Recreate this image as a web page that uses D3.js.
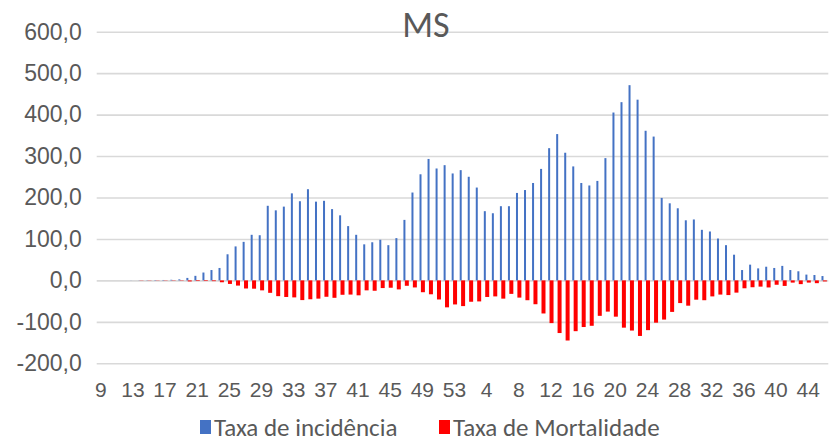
<!DOCTYPE html>
<html>
<head>
<meta charset="utf-8">
<script src="https://cdn.jsdelivr.net/npm/d3@7/dist/d3.min.js"></script>
<style>
  html, body { margin: 0; padding: 0; background: #ffffff; }
  svg { display: block; font-family: Carlito, Calibri, Lato, "Open Sans", sans-serif; }
  .grid line { stroke: #d9d9d9; stroke-width: 1.6; }
  .grid path { display: none; }
  .tick text { fill: #595959; }
</style>
</head>
<body>
<svg id="chart" width="834" height="441"></svg>
<script>
// Epidemiological weeks: 9–53 of 2020, then 1–46 of 2021
const weeks = [];
for (let w = 9; w <= 53; w++) weeks.push(String(w));
for (let w = 1; w <= 46; w++) weeks.push(String(w));

// Incidence rate per week
const incidencia = [
  0, 0, 0, 0, 0.2, 0.3, 0.5, 0.8, 1.0, 1.5,
  2.5, 6, 11, 19, 25, 30, 63, 82, 93, 110,
  109, 180, 169, 178, 210, 191, 220, 190, 192, 172,
  157, 131, 110, 87, 92, 98, 85, 102, 146, 212,
  256, 293, 270, 278, 258, 266, 250, 224, 167, 162,
  179, 179, 211, 218, 235, 269, 319, 353, 308, 275,
  235, 229, 240, 295, 405, 430, 471, 436, 361, 347,
  199, 186, 174, 145, 147, 122, 118, 101, 85, 62,
  25, 38, 29, 33, 30, 35, 25, 22, 14, 13,
  10.5
];

// Mortality rate per week (plotted below zero)
const mortalidade = [
  0, 0, 0, 0, 0, -0.5, -0.5, -0.5, -0.6, -0.7,
  -0.8, -2.5, -1.5, -1.5, -1.8, -4.5, -8.5, -12.5, -19.5, -20,
  -24, -30, -38, -40, -41, -47.5, -45.5, -44, -39.5, -42,
  -34.7, -34.2, -36, -24, -25, -18.5, -17.7, -21.7, -13, -17,
  -28.5, -33.5, -46, -65, -58, -62, -51.5, -50.7, -40, -38.6,
  -44, -32.5, -41.5, -47.8, -57.5, -79.8, -103, -127, -145, -122.5,
  -112.5, -109.5, -85.5, -75.3, -87.5, -114, -121, -134, -120, -102,
  -94.5, -76, -54.7, -61, -46.5, -47.8, -38.6, -34.2, -35.4, -29.5,
  -19, -16.5, -15, -17, -10.5, -13.3, -5.3, -9, -5.3, -6.7,
  -2.5
];

const yTicks = [-200, -100, 0, 100, 200, 300, 400, 500, 600];
const seriesNames = ["Taxa de incidência", "Taxa de Mortalidade"];
const seriesColors = ["#4472C4", "#FF0000"];
const title = "MS";

const svg = d3.select("#chart");
const plot = { left: 96.7, right: 828.3, top: 31.7, bottom: 363.3 };

const x = d3.scaleBand()
  .domain(d3.range(weeks.length))
  .range([plot.left, plot.right])
  .padding(0);

const y = d3.scaleLinear()
  .domain([-200, 600])
  .range([plot.bottom, plot.top]);

const fmt = v => d3.format(".1f")(v).replace(".", ",").replace("−", "-");

// Horizontal gridlines with value labels
const yAxis = svg.append("g")
  .attr("class", "grid")
  .attr("transform", `translate(${plot.left},0)`)
  .call(d3.axisLeft(y).tickValues(yTicks).tickSize(-(plot.right - plot.left)).tickPadding(15).tickFormat(fmt));
yAxis.selectAll(".tick text")
  .attr("font-size", "23px")
  .attr("text-anchor", "end");

// Week labels, every fourth category
const xAxis = svg.append("g")
  .attr("transform", `translate(0,${plot.bottom})`)
  .call(d3.axisBottom(x)
    .tickValues(d3.range(0, weeks.length, 4))
    .tickSize(0)
    .tickPadding(19)
    .tickFormat(i => weeks[i]));
xAxis.select(".domain").remove();
xAxis.selectAll(".tick text").attr("font-size", "21px");

const bw = x.bandwidth();

// Incidence bars (above zero)
svg.append("g").selectAll("rect")
  .data(incidencia)
  .join("rect")
  .attr("x", (d, i) => x(i) + bw / 2 - 2.8)
  .attr("width", 2)
  .attr("y", d => y(Math.max(0, d)))
  .attr("height", d => Math.abs(y(d) - y(0)))
  .attr("fill", seriesColors[0]);

// Mortality bars (below zero)
svg.append("g").selectAll("rect")
  .data(mortalidade)
  .join("rect")
  .attr("x", (d, i) => x(i) + bw / 2 - 1.4)
  .attr("width", 4)
  .attr("y", d => y(Math.max(0, d)))
  .attr("height", d => Math.abs(y(d) - y(0)))
  .attr("fill", seriesColors[1]);

// Title
svg.append("text")
  .attr("x", 426)
  .attr("y", 37)
  .attr("text-anchor", "middle")
  .attr("font-size", "36px")
  .attr("fill", "#595959")
  .text(title);

// Legend
const legend = svg.append("g");
const legendItems = [
  { x: 200, name: seriesNames[0], color: seriesColors[0] },
  { x: 439, name: seriesNames[1], color: seriesColors[1] }
];
legendItems.forEach(it => {
  legend.append("rect")
    .attr("x", it.x).attr("y", 420)
    .attr("width", 11).attr("height", 14)
    .attr("fill", it.color);
  legend.append("text")
    .attr("x", it.x + 14).attr("y", 435.5)
    .attr("font-size", "25px")
    .attr("fill", "#595959")
    .text(it.name);
});
</script>
</body>
</html>
